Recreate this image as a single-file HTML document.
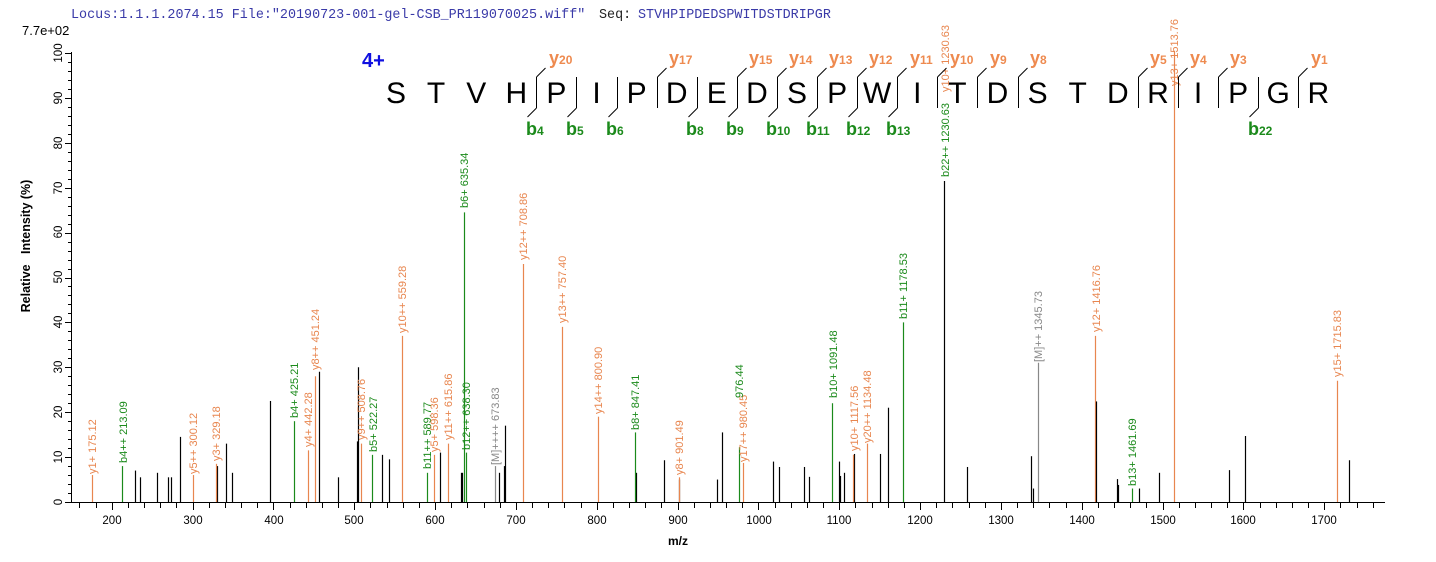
<!DOCTYPE html>
<html><head><meta charset="utf-8"><style>
html,body{margin:0;padding:0;background:#fff;}
svg{display:block;font-family:"Liberation Sans",Arial,sans-serif;}
.o{fill:#e8864f;font-size:11px;}
.g{fill:#1b8a1b;font-size:11px;}
.k{fill:#888;font-size:11px;}
</style></head><body>
<svg id="s" width="1436" height="562" viewBox="0 0 1436 562" xmlns="http://www.w3.org/2000/svg">
<text x="71" y="18" font-family="Liberation Mono,monospace" font-size="13.4" fill="#3a3aa8">Locus:1.1.1.2074.15 File:"20190723-001-gel-CSB_PR119070025.wiff"</text>
<text x="599" y="18" font-family="Liberation Mono,monospace" font-size="13.4" fill="#222">Seq:</text>
<text x="638" y="18" font-family="Liberation Mono,monospace" font-size="13.4" fill="#3a3aa8">STVHPIPDEDSPWITDSTDRIPGR</text>
<text x="22" y="35" font-size="13" fill="#000">7.7e+02</text>
<text transform="translate(30,246) rotate(-90)" text-anchor="middle" font-size="12.5" font-weight="bold" xml:space="preserve">Relative   Intensity (%)</text>
<text x="678" y="545" text-anchor="middle" font-size="12" font-weight="bold">m/z</text>
<text x="362" y="67" font-size="20" font-weight="bold" fill="#1010e0">4+</text>
<g id="ticks" stroke="#000" stroke-width="1"></g>
<g font-size="11.5" fill="#000" text-anchor="middle">
<text x="112" y="524">200</text><text x="193" y="524">300</text><text x="274" y="524">400</text><text x="354" y="524">500</text><text x="435" y="524">600</text><text x="516" y="524">700</text><text x="597" y="524">800</text><text x="678" y="524">900</text><text x="759" y="524">1000</text><text x="839" y="524">1100</text><text x="920" y="524">1200</text><text x="1001" y="524">1300</text><text x="1082" y="524">1400</text><text x="1163" y="524">1500</text><text x="1243" y="524">1600</text><text x="1324" y="524">1700</text>
<text transform="translate(62,502) rotate(-90)">0</text>
<text transform="translate(62,457) rotate(-90)">10</text>
<text transform="translate(62,412) rotate(-90)">20</text>
<text transform="translate(62,367) rotate(-90)">30</text>
<text transform="translate(62,322) rotate(-90)">40</text>
<text transform="translate(62,277) rotate(-90)">50</text>
<text transform="translate(62,232) rotate(-90)">60</text>
<text transform="translate(62,188) rotate(-90)">70</text>
<text transform="translate(62,143) rotate(-90)">80</text>
<text transform="translate(62,98) rotate(-90)">90</text>
<text transform="translate(62,53) rotate(-90)">100</text>
</g>
<g id="peaks" stroke-width="1.2"></g>
<g id="labels">
<text class="o" transform="translate(96,474) rotate(-90)">y1+ 175.12</text>
<text class="g" transform="translate(127,463) rotate(-90)">b4++ 213.09</text>
<text class="o" transform="translate(197,474) rotate(-90)">y5++ 300.12</text>
<text class="o" transform="translate(220,461) rotate(-90)">y3+ 329.18</text>
<text class="g" transform="translate(298,418) rotate(-90)">b4+ 425.21</text>
<text class="o" transform="translate(312,447) rotate(-90)">y4+ 442.28</text>
<text class="o" transform="translate(319,370) rotate(-90)">y8++ 451.24</text>
<text class="o" transform="translate(365,440) rotate(-90)">y9++ 508.76</text>
<text class="g" transform="translate(377,452) rotate(-90)">b5+ 522.27</text>
<text class="o" transform="translate(406,333) rotate(-90)">y10++ 559.28</text>
<text class="g" transform="translate(431,469) rotate(-90)">b11++ 589.77</text>
<text class="o" transform="translate(438,452) rotate(-90)">y5+ 598.36</text>
<text class="o" transform="translate(452,440) rotate(-90)">y11++ 615.86</text>
<text class="g" transform="translate(468,208) rotate(-90)">b6+ 635.34</text>
<text class="g" transform="translate(470,450) rotate(-90)">b12++ 638.30</text>
<text class="k" transform="translate(499,465) rotate(-90)">[M]++++ 673.83</text>
<text class="o" transform="translate(527,260) rotate(-90)">y12++ 708.86</text>
<text class="o" transform="translate(566,323) rotate(-90)">y13++ 757.40</text>
<text class="o" transform="translate(602,414) rotate(-90)">y14++ 800.90</text>
<text class="g" transform="translate(639,430) rotate(-90)">b8+ 847.41</text>
<text class="o" transform="translate(683,475) rotate(-90)">y8+ 901.49</text>
<text class="o" transform="translate(747,462) rotate(-90)">y17++ 980.45</text>
<text class="g" transform="translate(743,398) rotate(-90)">976.44</text>
<text class="g" transform="translate(837,398) rotate(-90)">b10+ 1091.48</text>
<text class="o" transform="translate(858,451) rotate(-90)">y10+ 1117.56</text>
<text class="o" transform="translate(871,443) rotate(-90)">y20++ 1134.48</text>
<text class="g" transform="translate(907,319) rotate(-90)">b11+ 1178.53</text>
<text class="g" transform="translate(949,177) rotate(-90)">b22++ 1230.63</text>
<text class="o" transform="translate(949,92) rotate(-90)">y10+ 1230.63</text>
<text class="k" transform="translate(1042,362) rotate(-90)">[M]++ 1345.73</text>
<text class="o" transform="translate(1100,332) rotate(-90)">y12+ 1416.76</text>
<text class="g" transform="translate(1136,486) rotate(-90)">b13+ 1461.69</text>
<text class="o" transform="translate(1178,86) rotate(-90)">y13+ 1513.76</text>
<text class="o" transform="translate(1341,377) rotate(-90)">y15+ 1715.83</text>
</g>
<g font-size="30" fill="#000" text-anchor="middle">
<text x="396" y="103">S</text><text x="436.1" y="103">T</text><text x="476.2" y="103">V</text><text x="516.3" y="103">H</text><text x="556.4" y="103">P</text><text x="596.5" y="103">I</text><text x="636.6" y="103">P</text><text x="676.7" y="103">D</text><text x="716.8" y="103">E</text><text x="756.9" y="103">D</text><text x="797" y="103">S</text><text x="837.1" y="103">P</text><text x="877.2" y="103">W</text><text x="917.3" y="103">I</text><text x="957.4" y="103">T</text><text x="997.5" y="103">D</text><text x="1037.6" y="103">S</text><text x="1077.7" y="103">T</text><text x="1117.8" y="103">D</text><text x="1157.9" y="103">R</text><text x="1198" y="103">I</text><text x="1238.1" y="103">P</text><text x="1278.2" y="103">G</text><text x="1318.3" y="103">R</text>
</g>
<g id="cuts" stroke="#000" stroke-width="1" fill="none"></g>
<g font-weight="bold" fill="#ee8a4f" font-size="18">
<text x="549" y="64">y<tspan font-size="12">20</tspan></text>
<text x="669" y="64">y<tspan font-size="12">17</tspan></text>
<text x="749" y="64">y<tspan font-size="12">15</tspan></text>
<text x="789" y="64">y<tspan font-size="12">14</tspan></text>
<text x="829" y="64">y<tspan font-size="12">13</tspan></text>
<text x="869" y="64">y<tspan font-size="12">12</tspan></text>
<text x="910" y="64">y<tspan font-size="12">11</tspan></text>
<text x="950" y="64">y<tspan font-size="12">10</tspan></text>
<text x="990" y="64">y<tspan font-size="12">9</tspan></text>
<text x="1030" y="64">y<tspan font-size="12">8</tspan></text>
<text x="1150" y="64">y<tspan font-size="12">5</tspan></text>
<text x="1190" y="64">y<tspan font-size="12">4</tspan></text>
<text x="1230" y="64">y<tspan font-size="12">3</tspan></text>
<text x="1311" y="64">y<tspan font-size="12">1</tspan></text>
</g>
<g font-weight="bold" fill="#1b8a1b" font-size="18">
<text x="526" y="135">b<tspan font-size="12">4</tspan></text>
<text x="566" y="135">b<tspan font-size="12">5</tspan></text>
<text x="606" y="135">b<tspan font-size="12">6</tspan></text>
<text x="686" y="135">b<tspan font-size="12">8</tspan></text>
<text x="726" y="135">b<tspan font-size="12">9</tspan></text>
<text x="766" y="135">b<tspan font-size="12">10</tspan></text>
<text x="806" y="135">b<tspan font-size="12">11</tspan></text>
<text x="846" y="135">b<tspan font-size="12">12</tspan></text>
<text x="886" y="135">b<tspan font-size="12">13</tspan></text>
<text x="1248" y="135">b<tspan font-size="12">22</tspan></text>
</g>
</svg>
<script>
var NS="http://www.w3.org/2000/svg";
function ln(g,x1,y1,x2,y2,c,w){var l=document.createElementNS(NS,"line");l.setAttribute("x1",x1);l.setAttribute("y1",y1);l.setAttribute("x2",x2);l.setAttribute("y2",y2);if(c)l.setAttribute("stroke",c);if(w)l.setAttribute("stroke-width",w);g.appendChild(l);}
var t=document.getElementById("ticks");
function X(m){return 91.7+(m-175.12)*0.8083;}
function Y(h){return 502-h*4.49;}
ln(t,70,502.5,1385,502.5);ln(t,71.5,52,71.5,503);
for(var m=160;m<=1760;m+=20){var x=Math.round(X(m))+0.5;ln(t,x,503,x,m%100==0?510:508);}
for(var h=0;h<=100;h+=2){var y=Math.round(Y(h))+0.5;ln(t,h%10==0?65:68,y,71,y);}
var p=document.getElementById("peaks");
var O="#e8864f",G="#1b8a1b",K="#000",Gr="#888";
var pk=[
[135,7,K],[140,5.5,K],[157,6.5,K],[168,5.5,K],[171,5.5,K],[180,14.5,K],[217,8,K],[226,13,K],[232,6.5,K],[270,22.5,K],[319,29,K],[338,5.5,K],[358,30,K],[357,13.5,K],[382,10.5,K],[389,9.5,K],[440,11,K],[461,6.5,K],[462,6.5,K],[499,6.5,K],[504,8,K],[505,17,K],[636,6.5,K],
[664,9.3,K],[679,5,K],[717,5,K],[722,15.5,K],[773,9,K],[779,7.8,K],[804,7.8,K],[809,5.6,K],[839,9,K],[840,5.8,K],[844,6.5,K],[854,10.7,K],[880,10.7,K],[888,21,K],
[967,7.8,K],[1031,10.2,K],[1033,3,K],[1117,5.1,K],[1118,3.8,K],[1139,3,K],[1159,6.5,K],[1229,7.1,K],[1245,14.7,K],[1349,9.3,K],
[X(175.12),6,O],[X(213.09),8,G],[X(300.12),6,O],[X(329.18),8.5,O],[X(425.21),18,G],[X(442.28),11.5,O],[X(451.24),28,O],[X(508.76),13,O],[X(522.27),10.5,G],[X(559.28),37,O],[X(589.77),6.5,G],[X(598.36),10.5,O],[X(615.86),13,O],[X(635.34),64.5,G],[X(638.30),11,G],[X(673.83),8,Gr],[X(708.86),53,O],[X(757.40),39,O],[X(800.90),19,O],[X(847.41),15.5,G],[X(901.49),5.5,O],[739.4,12.2,G],[742.6,8.7,O],[X(1091.48),22,G],[X(1117.56),10.5,O],[X(1134.48),13,O],[X(1178.53),40,G],[X(1345.73),31,Gr],[X(1416.76),37,O],[X(1461.69),3,G],[X(1513.76),100.5,O],[X(1715.83),27,O],
[944,71.5,K],[1096,22.4,K]];
pk.forEach(function(a){var x=Math.round(a[0])+0.5;ln(p,x,502,x,Y(a[1]),a[2]);});
var c=document.getElementById("cuts");
function bx(k){return 375.95+40.1*k;}
var yk=[4,7,9,10,11,12,13,14,15,16,19,20,21,23],bk=[4,5,6,8,9,10,11,12,13,22];
var all={};yk.concat(bk).forEach(function(k){all[k]=1;});
for(var k in all){var x=Math.round(bx(+k))+0.5;ln(c,x,77,x,108);}
yk.forEach(function(k){var x=Math.round(bx(k))+0.5;ln(c,x,77,x+9,68);});
bk.forEach(function(k){var x=Math.round(bx(k))+0.5;ln(c,x,108,x-9,117);});
</script>
</body></html>
